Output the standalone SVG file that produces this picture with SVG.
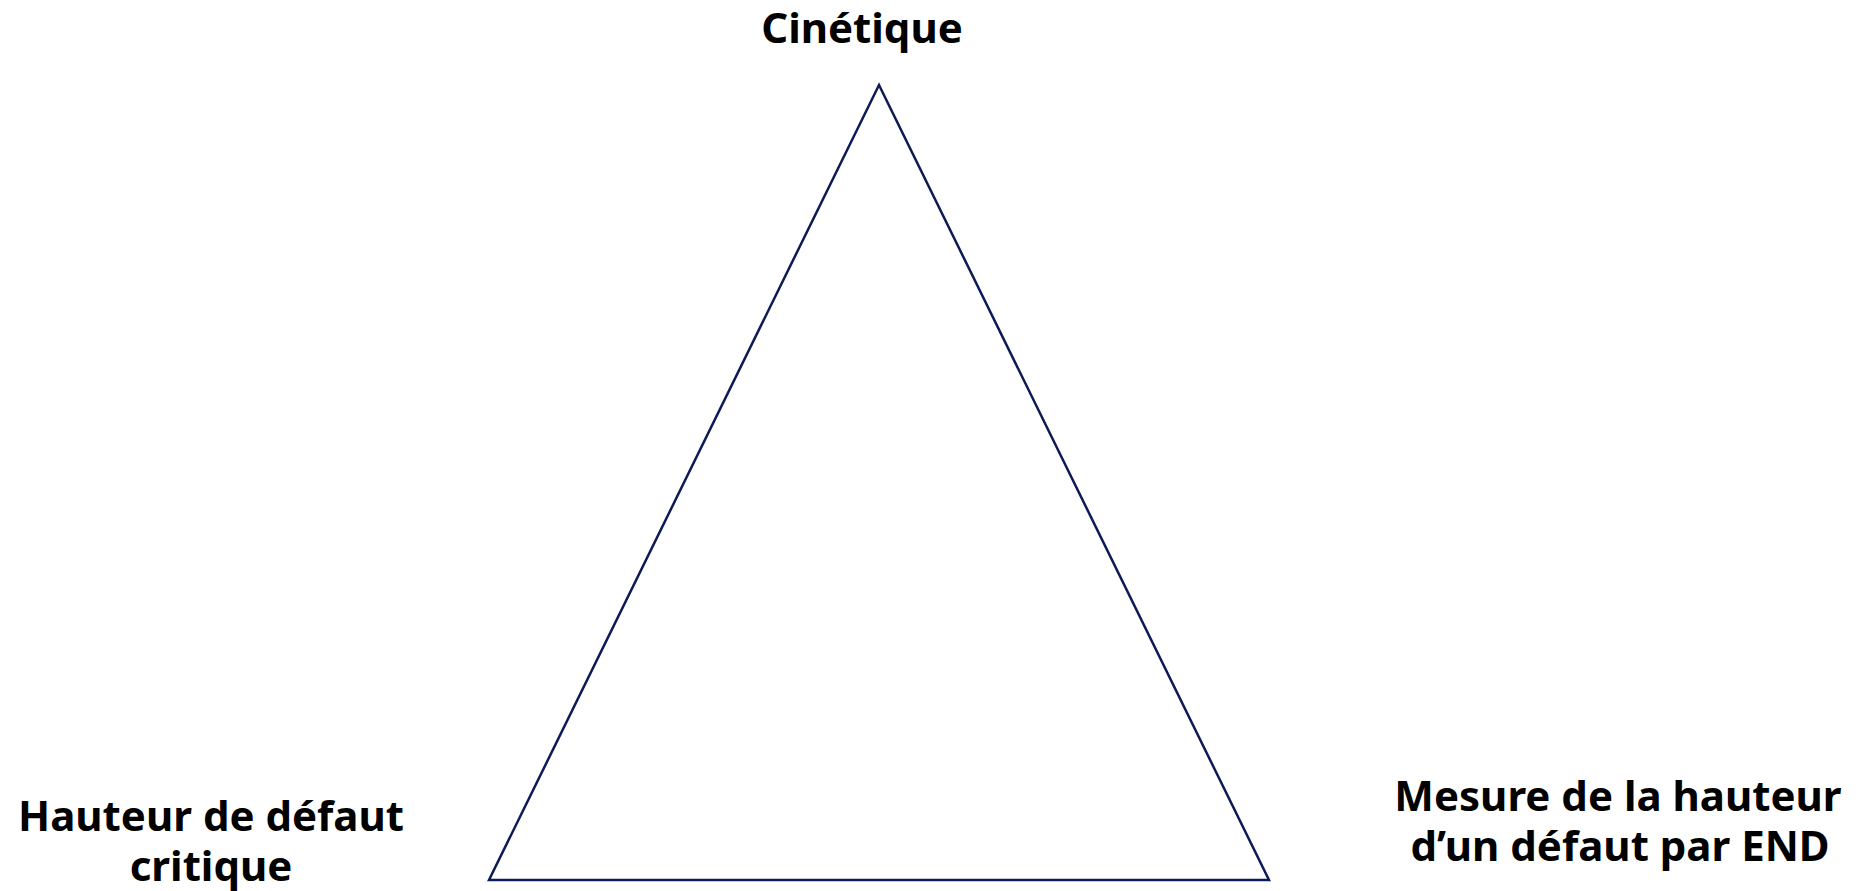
<svg xmlns="http://www.w3.org/2000/svg" width="1862" height="891" viewBox="0 0 1862 891">
<style>
.lbl{font-family:"Noto Sans","Open Sans","DejaVu Sans",sans-serif;font-weight:700;font-size:42px;fill:#000;text-anchor:middle}
.tri{fill:none;stroke:#0d1a56;stroke-width:2.5;stroke-linejoin:miter}
</style>
<rect width="1862" height="891" fill="#fff"/>
<g id="connectors">
<polygon class="tri" points="879,85 1269,880 489,880"/>
</g>
<g id="node-top">
<text class="lbl" x="862" y="43">Cinétique</text>
</g>
<g id="node-left">
<text class="lbl" x="211" y="831">Hauteur de défaut</text>
<text class="lbl" x="211" y="881">critique</text>
</g>
<g id="node-right">
<text class="lbl" x="1618" y="811">Mesure de la hauteur</text>
<text class="lbl" x="1620" y="861">d’un défaut par END</text>
</g>
</svg>
